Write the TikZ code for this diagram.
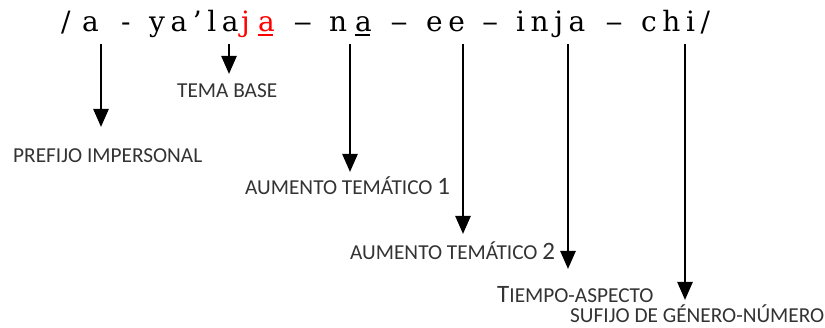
\documentclass[tikz,border=0pt]{standalone}
\usepackage{fontspec}
\usetikzlibrary{arrows.meta}
\newfontfamily\topfont[LetterSpace=20]{DejaVu Serif}
\newfontfamily\labfont{Carlito}
\newcommand\capbig[1]{{\fontsize{25}{28}\selectfont #1}}
\tikzset{
  word/.style={anchor=base west, inner sep=0pt, font=\topfont\fontsize{28}{32}\selectfont},
  lab/.style={anchor=base west, inner sep=0pt, text=black!80, font=\labfont\fontsize{21.3}{24}\selectfont},
  arr/.style={line width=2.5pt, -{Triangle[length=18pt,width=15pt]}},
  uline/.style={line width=2pt}
}
\begin{document}
\begin{tikzpicture}[x=1pt,y=-1pt]
\useasboundingbox (0,0) rectangle (825,328);
% top line
\node[word] (w0) at (61,32) {/};
\node[word] (w1) at (82,32) {a};
\node[word] (w2) at (121,32) {-};
\node[word] (w3) at (149,32) {ya’la};
\node[word,text=red] (w4) at (241,32) {j};
\node[word,text=red] (w5) at (258,32) {a};
\node[word,xscale=1.35] (w6) at (293,32) {–};
\node[word] (w7) at (329,32) {n};
\node[word] (w8) at (355,32) {a};
\node[word,xscale=1.25] (w9) at (390,32) {–};
\node[word] (w10) at (426,32) {ee};
\node[word,xscale=1.15] (w11) at (482,32) {–};
\node[word] (w12) at (516,32) {inja};
\node[word,xscale=1.25] (w13) at (605,32) {–};
\node[word] (w14) at (641,32) {chi/};
\draw[uline,red] ([yshift=-3pt]w5.base west) -- ([yshift=-3pt,xshift=-2pt]w5.base east);
\draw[uline] ([yshift=-3pt]w8.base west) -- ([yshift=-3pt,xshift=-2pt]w8.base east);
% labels
\node[lab] (l1) at (13,163) {PREFIJO IMPERSONAL};
\node[lab] (l2) at (177,98) {TEMA BASE};
\node[lab] (l3) at (245,195) {AUMENTO TEMÁTICO \capbig{1}};
\node[lab] (l4) at (350,260) {AUMENTO TEMÁTICO \capbig{2}};
\node[lab] (l5) at (497,303) {\capbig{T}IEMPO-ASPECTO};
\node[lab] (l6) at (570,323) {SUFIJO DE GÉNERO-NÚMERO};
% arrows
\coordinate (s1) at (101,44); \coordinate (e1) at (101,127);
\coordinate (s2) at (229,44); \coordinate (e2) at (229,74);
\coordinate (s3) at (350,44); \coordinate (e3) at (350,172);
\coordinate (s4) at (463,44); \coordinate (e4) at (463,234);
\coordinate (s5) at (568,44); \coordinate (e5) at (568,269);
\coordinate (s6) at (685,44); \coordinate (e6) at (685,300);
\draw[arr] (s1) -- (e1);
\draw[arr] (s2) -- (e2);
\draw[arr] (s3) -- (e3);
\draw[arr] (s4) -- (e4);
\draw[arr] (s5) -- (e5);
\draw[arr] (s6) -- (e6);
\end{tikzpicture}
\end{document}
